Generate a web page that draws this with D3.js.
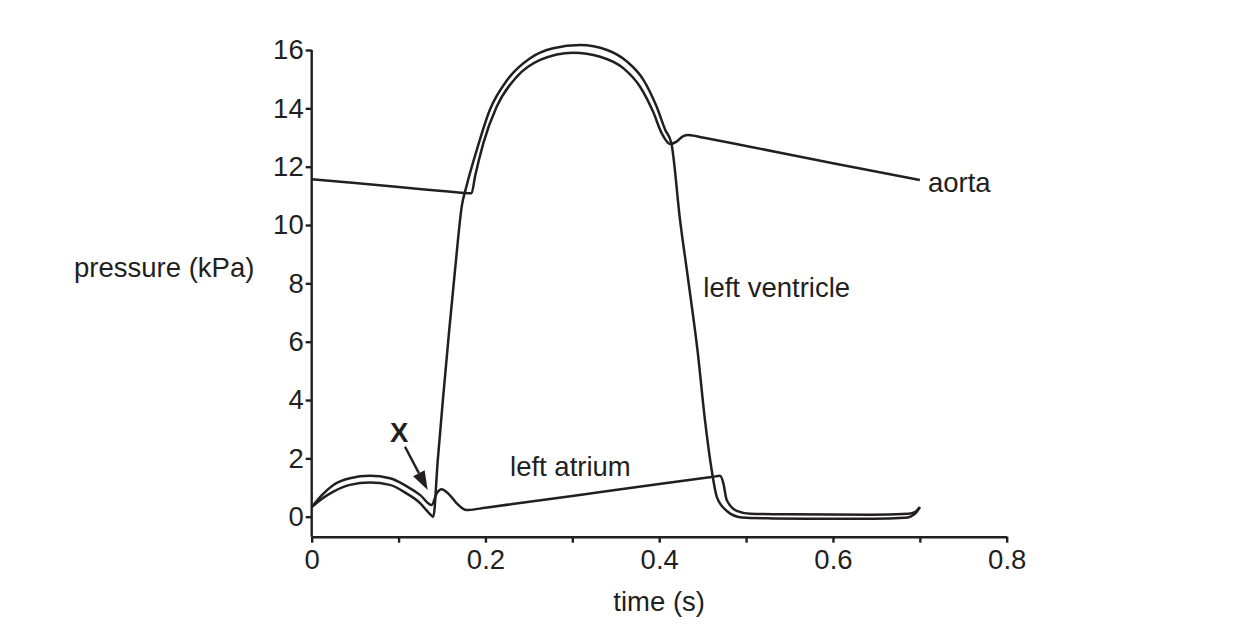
<!DOCTYPE html>
<html>
<head>
<meta charset="utf-8">
<script src="https://cdn.jsdelivr.net/npm/d3@7"></script>
<style>
  html, body { margin: 0; padding: 0; background: #fff; }
  svg { display: block; font-family: "Liberation Sans", Arial, Helvetica, sans-serif; }
</style>
</head>
<body>
<svg id="chart" width="1250" height="638"></svg>
<script>
// Pressure changes in the left side of the heart during one cardiac cycle.
// Values are [time (s), pressure (kPa)].

const timeTicks = [0, 0.1, 0.2, 0.3, 0.4, 0.5, 0.6, 0.7, 0.8];
const timeLabels = ['0', '', '0.2', '', '0.4', '', '0.6', '', '0.8'];
const pressureTicks = [0, 2, 4, 6, 8, 10, 12, 14, 16];

const leftVentricle = [
  [0, 0.33], [0.012, 0.62], [0.025, 0.86], [0.044, 1.09], [0.067, 1.17], [0.09, 1.09],
  [0.109, 0.80], [0.125, 0.46], [0.134, 0.16], [0.140, 0.0], [0.145, 1.9], [0.151, 4.0],
  [0.158, 6.3], [0.165, 8.46], [0.173, 10.69], [0.178, 11.31], [0.19, 12.57], [0.205, 13.94],
  [0.225, 14.97], [0.251, 15.71], [0.278, 16.06], [0.309, 16.17], [0.34, 16.0], [0.363, 15.6],
  [0.382, 14.97], [0.397, 14.06], [0.407, 13.26], [0.414, 12.80], [0.424, 10.17], [0.433, 8.2],
  [0.4445, 5.6], [0.4527, 3.31], [0.4604, 1.6], [0.4662, 0.69], [0.4777, 0.2], [0.49, 0.0],
  [0.5007, -0.04], [0.531, -0.06], [0.57, -0.07], [0.646, -0.07], [0.683, -0.04], [0.695, 0.12],
  [0.7, 0.33]
];

const leftAtrium = [
  [0, 0.33], [0.012, 0.75], [0.025, 1.09], [0.044, 1.32], [0.067, 1.40], [0.09, 1.32],
  [0.109, 1.05], [0.125, 0.74], [0.138, 0.40], [0.1439, 0.80], [0.1496, 0.94], [0.157, 0.80],
  [0.1669, 0.46], [0.1765, 0.24], [0.18, 0.23], [0.2, 0.31], [0.3, 0.71], [0.4, 1.12],
  [0.4623, 1.37], [0.47, 1.40], [0.4738, 1.15], [0.4777, 0.57], [0.4892, 0.2], [0.505, 0.1],
  [0.55, 0.08], [0.643, 0.07], [0.687, 0.1], [0.695, 0.17], [0.7, 0.33]
];

const aorta = [
  [0, 11.57], [0.05, 11.44], [0.1, 11.30], [0.15, 11.17], [0.18, 11.09], [0.184, 11.09],
  [0.188, 11.66], [0.1975, 12.8], [0.213, 14.06], [0.236, 15.08], [0.263, 15.66], [0.301, 15.91],
  [0.332, 15.77], [0.359, 15.37], [0.378, 14.74], [0.393, 13.88], [0.403, 13.14], [0.4125, 12.78],
  [0.4201, 12.86], [0.4277, 13.05], [0.4335, 13.09], [0.45, 13.0], [0.5, 12.71], [0.6, 12.12],
  [0.7, 11.54]
];

const curveNames = ['aorta', 'left ventricle', 'left atrium'];
const markerLabel = 'X';
const xTitle = 'time (s)';
const yTitle = 'pressure (kPa)';

const ink = '#231f20';
const fontSize = 27.5;

const svg = d3.select('#chart');
const x = d3.scaleLinear().domain([0, 0.8]).range([311.7, 1006.7]);
const y = d3.scaleLinear().domain([0, 16]).range([516.7, 50]);
const axisY = 536.7;

// x axis
const gx = svg.append('g').attr('transform', `translate(0,${axisY})`)
  .call(d3.axisBottom(x).tickValues(timeTicks).tickFormat((d, i) => timeLabels[i])
    .tickSize(6).tickSizeOuter(0).tickPadding(7));

// y axis (line drawn separately so it runs down to the x axis)
const gy = svg.append('g').attr('transform', `translate(${x(0)},0)`)
  .call(d3.axisLeft(y).tickValues(pressureTicks).tickSize(6).tickSizeOuter(0).tickPadding(2));
gy.select('.domain').remove();
gy.append('line').attr('class', 'yline')
  .attr('x1', 0).attr('x2', 0).attr('y1', y(16)).attr('y2', axisY);

[gx, gy].forEach(g => {
  g.attr('font-family', null).attr('font-size', null);
  g.selectAll('.domain, .tick line, .yline').attr('stroke', ink).attr('stroke-width', 2.4);
  g.selectAll('.tick text').attr('fill', ink).attr('font-size', fontSize);
});

svg.append('text').attr('x', (x(0.3) + x(0.5)) / 2).attr('y', 611)
  .attr('text-anchor', 'middle').attr('font-size', fontSize).attr('fill', ink).text(xTitle);
svg.append('text').attr('x', 74).attr('y', 277)
  .attr('font-size', fontSize).attr('fill', ink).text(yTitle);

// curves
const line = d3.line().x(d => x(d[0])).y(d => y(d[1])).curve(d3.curveMonotoneX);
svg.append('g').selectAll('path').data([aorta, leftVentricle, leftAtrium]).join('path')
  .attr('d', line)
  .attr('fill', 'none')
  .attr('stroke', ink)
  .attr('stroke-width', 2.5)
  .attr('stroke-linejoin', 'round');

// curve labels
const labelAt = { 'aorta': [0.7094, 11.14], 'left ventricle': [0.4508, 7.52], 'left atrium': [0.2283, 1.395] };
svg.append('g').selectAll('text').data(curveNames).join('text')
  .attr('x', d => x(labelAt[d][0]))
  .attr('y', d => y(labelAt[d][1]))
  .attr('font-size', fontSize)
  .attr('fill', ink)
  .text(d => d);

// X marker with arrow
svg.append('text').attr('x', x(0.1007)).attr('y', y(2.57))
  .attr('text-anchor', 'middle').attr('font-size', fontSize).attr('font-weight', 'bold')
  .attr('fill', ink).text(markerLabel);

const a0 = [x(0.1074), y(2.40)];
const a1 = [x(0.1335), y(0.915)];
const ang = Math.atan2(a1[1] - a0[1], a1[0] - a0[0]);
const headLen = 19, headHalf = 6.5;
const base = [a1[0] - headLen * Math.cos(ang), a1[1] - headLen * Math.sin(ang)];
svg.append('line')
  .attr('x1', a0[0]).attr('y1', a0[1]).attr('x2', base[0]).attr('y2', base[1])
  .attr('stroke', ink).attr('stroke-width', 2.4);
svg.append('path')
  .attr('d', d3.line()([
    a1,
    [base[0] + headHalf * Math.sin(ang), base[1] - headHalf * Math.cos(ang)],
    [base[0] - headHalf * Math.sin(ang), base[1] + headHalf * Math.cos(ang)]
  ]) + 'Z')
  .attr('fill', ink);
</script>
</body>
</html>
